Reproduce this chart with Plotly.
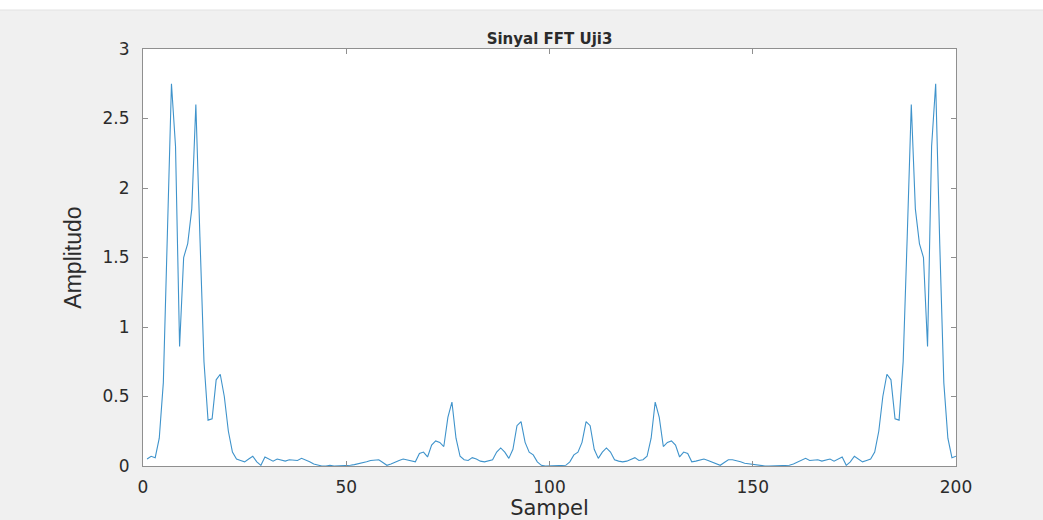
import plotly.graph_objects as go

# Sample index (1..200)
sampel = list(range(1, 201))

# Amplitude, first half (samples 1..101)
amp_left = [
    0.05, 0.07, 0.06, 0.2, 0.6, 1.6, 2.75, 2.3, 0.86, 1.5,
    1.6, 1.85, 2.6, 1.65, 0.75, 0.33, 0.34, 0.62, 0.66, 0.5,
    0.25, 0.1, 0.05, 0.04, 0.03, 0.05, 0.07, 0.03, 0.005, 0.065,
    0.05, 0.035, 0.05, 0.04, 0.035, 0.045, 0.04, 0.04, 0.055, 0.045,
    0.03, 0.015, 0.005, 0.0, 0.0, 0.005, 0.0, 0.0, 0.0, 0.005,
    0.005, 0.01, 0.015, 0.02, 0.03, 0.04, 0.045, 0.045, 0.025, 0.005,
    0.015, 0.03, 0.04, 0.05, 0.045, 0.035, 0.03, 0.09, 0.1, 0.065,
    0.15, 0.18, 0.17, 0.14, 0.35, 0.46, 0.2, 0.07, 0.045, 0.04,
    0.06, 0.05, 0.035, 0.03, 0.035, 0.045, 0.1, 0.13, 0.1, 0.055,
    0.12, 0.29, 0.32, 0.17, 0.1, 0.08, 0.03, 0.005, 0.0, 0.0,
    0.0,
]

# Amplitude, second half (samples 102..200)
amp_right = [
    0.0, 0.0, 0.005, 0.03, 0.08, 0.1, 0.17, 0.32, 0.29,
    0.12, 0.055, 0.1, 0.13, 0.1, 0.045, 0.035, 0.03, 0.035, 0.05,
    0.06, 0.04, 0.045, 0.07, 0.2, 0.46, 0.35, 0.14, 0.17, 0.18,
    0.15, 0.065, 0.1, 0.09, 0.03, 0.035, 0.045, 0.05, 0.04, 0.03,
    0.015, 0.005, 0.025, 0.045, 0.045, 0.04, 0.03, 0.02, 0.015, 0.01,
    0.005, 0.005, 0.0, 0.0, 0.0, 0.005, 0.0, 0.0, 0.005, 0.015,
    0.03, 0.045, 0.055, 0.04, 0.04, 0.045, 0.035, 0.04, 0.05, 0.035,
    0.05, 0.065, 0.005, 0.03, 0.07, 0.05, 0.03, 0.04, 0.05, 0.1,
    0.25, 0.5, 0.66, 0.62, 0.34, 0.33, 0.75, 1.65, 2.6, 1.85,
    1.6, 1.5, 0.86, 2.3, 2.75, 1.6, 0.6, 0.2, 0.06, 0.07,
]

amplitudo = amp_left + amp_right

x_ticks = [0, 50, 100, 150, 200]
y_ticks = [0, 0.5, 1, 1.5, 2, 2.5, 3]
y_tick_text = ["0", "0.5", "1", "1.5", "2", "2.5", "3"]

WIDE = "DejaVu Sans, Verdana, sans-serif"
NARROW = "Liberation Sans, Arial, sans-serif"
TXT = "#2b2b2b"
AX = "#8f8f8f"

fig = go.Figure()
fig.add_trace(go.Scatter(
    x=sampel, y=amplitudo, mode="lines",
    line=dict(color="#3f93cb", width=1.1),
    showlegend=False, hoverinfo="x+y",
))

fig.update_layout(
    width=1043, height=520,
    margin=dict(l=143, r=87, t=49, b=54, autoexpand=False),
    paper_bgcolor="#f0f0f0",
    plot_bgcolor="#ffffff",
    font=dict(family=WIDE, color=TXT, size=17),
    title=dict(
        text="<b>Sinyal FFT Uji3</b>",
        x=0.5, xref="paper", xanchor="center",
        y=1.0, yref="paper", yanchor="bottom",
        pad=dict(b=5),
        font=dict(family=WIDE, size=15, color=TXT),
    ),
    xaxis=dict(
        range=[0, 200], tickvals=x_ticks,
        ticks="inside", ticklen=5, tickcolor=AX, tickwidth=1,
        showline=True, linecolor=AX, linewidth=1, mirror="ticks",
        showgrid=False, zeroline=False,
        tickfont=dict(family=WIDE, size=17, color=TXT),
        ticklabelstandoff=6,
        title=dict(text="Sampel", font=dict(family=WIDE, size=21, color=TXT), standoff=4),
    ),
    yaxis=dict(
        range=[0, 3], tickvals=y_ticks, ticktext=y_tick_text,
        ticks="inside", ticklen=5, tickcolor=AX, tickwidth=1,
        showline=True, linecolor=AX, linewidth=1, mirror="ticks",
        showgrid=False, zeroline=False,
        tickfont=dict(family=WIDE, size=17, color=TXT),
        ticklabelstandoff=9,
        title=dict(text="Amplitudo", font=dict(family=NARROW, size=23, color=TXT), standoff=14),
    ),
    shapes=[
        dict(type="rect", xref="paper", yref="paper",
             x0=-143/813, x1=1 + 87/813, y0=1 + 39/417, y1=1 + 49/417,
             fillcolor="#ffffff", line=dict(width=0), layer="below"),
        dict(type="line", xref="paper", yref="paper",
             x0=-143/813, x1=1 + 87/813, y0=1 + 39/417, y1=1 + 39/417,
             line=dict(color="#e2e2e2", width=1)),
    ],
)

fig.write_html(
    "out.html",
    config={"displayModeBar": False},
    post_script="document.body.style.margin='0px';document.body.style.overflow='hidden';",
)
